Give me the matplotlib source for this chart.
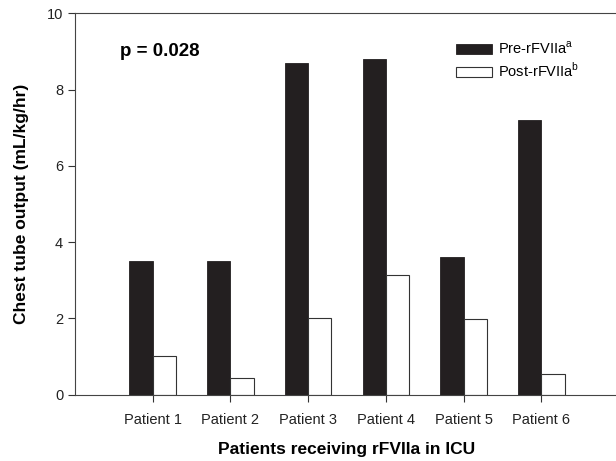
import numpy as np
import matplotlib
matplotlib.use("Agg")
import matplotlib.pyplot as plt

plt.rcParams["font.family"] = ["Liberation Sans", "DejaVu Sans"]
plt.rcParams["mathtext.fontset"] = "custom"
plt.rcParams["mathtext.rm"] = "Liberation Sans"

patients = ["Patient 1", "Patient 2", "Patient 3", "Patient 4", "Patient 5", "Patient 6"]
pre_vals = [3.5, 3.5, 8.7, 8.8, 3.6, 7.2]
post_vals = [1.0, 0.42, 2.0, 3.13, 1.97, 0.55]

x = np.arange(1, len(patients) + 1)
w = 0.3

fig = plt.figure(figsize=(6.16, 4.61), dpi=100)
ax = fig.add_axes([75 / 616, 66.5 / 461, 544 / 616, 381 / 461])

ax.bar(x - w / 2, pre_vals, w, color="#231f20", edgecolor="#231f20", linewidth=0.6,
       label=r"Pre-rFVIIa$^{\mathrm{a}}$")
ax.bar(x + w / 2, post_vals, w, color="white", edgecolor="#333333", linewidth=0.8,
       label=r"Post-rFVIIa$^{\mathrm{b}}$")

ax.set_xlim(0, 7)
ax.set_ylim(0, 10)
ax.set_xticks(x)
ax.set_xticklabels(patients, fontsize=10.5)
ax.set_yticks([0, 2, 4, 6, 8, 10])
ax.tick_params(axis="both", direction="out", length=5, width=0.8, colors="#333333",
               labelcolor="#222222", labelsize=10.5)
ax.tick_params(axis="x", pad=8)
for s in ["left", "bottom", "top"]:
    ax.spines[s].set_color("#444444")
    ax.spines[s].set_linewidth(0.8)
ax.spines["right"].set_visible(False)

ax.set_xlabel("Patients receiving rFVIIa in ICU", fontsize=12.5, fontweight="bold", labelpad=11)
ax.set_ylabel("Chest tube output (mL/kg/hr)", fontsize=12.5, fontweight="bold", labelpad=13)

ax.text(0.58, 9.0, "p = 0.028", fontsize=13.5, fontweight="bold", va="center", ha="left")

ax.legend(loc="upper left", bbox_to_anchor=(0.70, 0.93), frameon=False, fontsize=10.5,
          handlelength=2.45, handleheight=0.65, labelspacing=0.3, handletextpad=0.45,
          borderpad=0, borderaxespad=0)

fig.savefig("out.png", dpi=100)
